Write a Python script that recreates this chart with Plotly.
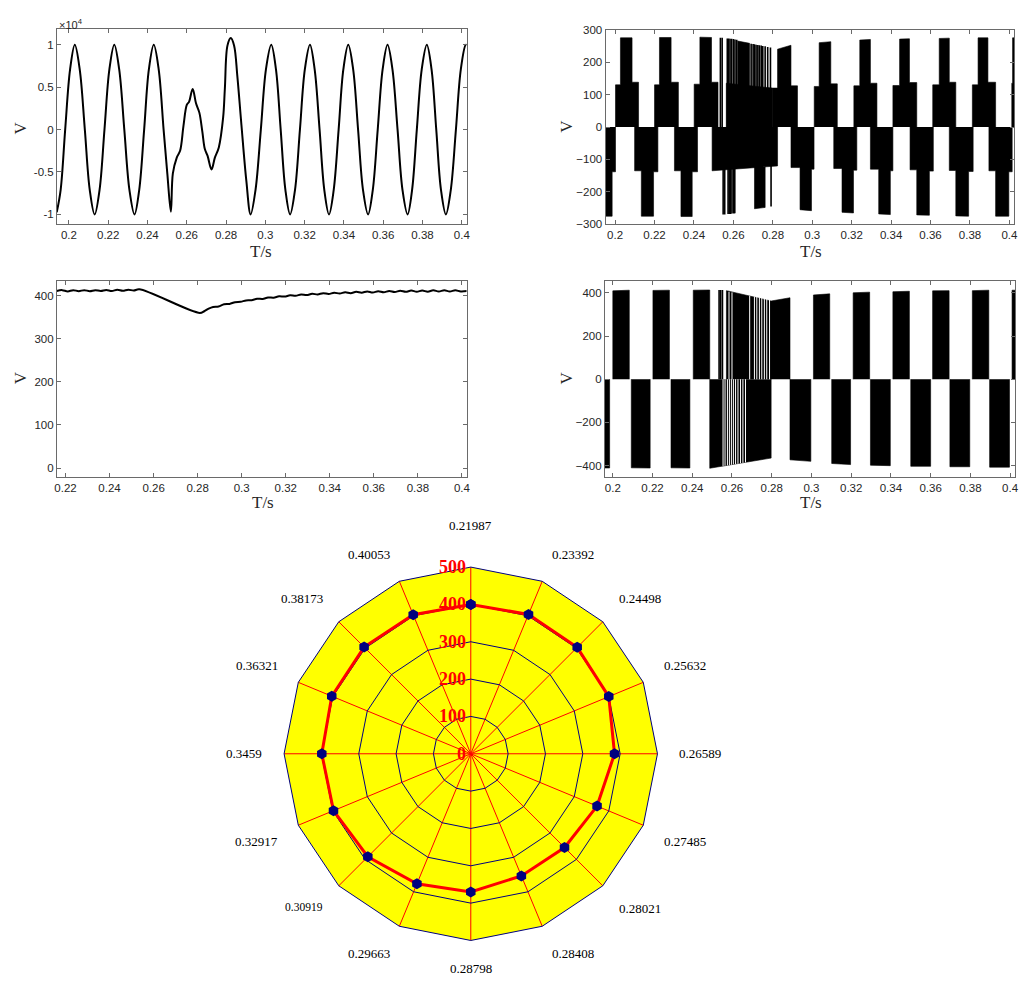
import math
import plotly.graph_objects as go

W, H = 1026, 985

# ---------------- grid phase voltage (V), key points of the waveform ----------------
ua_t = [0.1938, 0.1958, 0.1981, 0.2006, 0.2030, 0.2055, 0.2081, 0.2106, 0.2131, 0.2156,
        0.2181, 0.2206, 0.2231, 0.2256, 0.2282, 0.2308, 0.2334, 0.2358, 0.2383, 0.2407,
        0.2432, 0.2457, 0.2482, 0.2501, 0.2519, 0.2529, 0.2549, 0.2566, 0.2583, 0.2600,
        0.2612, 0.2630, 0.2647, 0.2664, 0.2679, 0.2692, 0.2706, 0.2726, 0.2743, 0.2763,
        0.2785, 0.2794, 0.2807, 0.2824, 0.2841, 0.2857, 0.2878, 0.2903, 0.2925, 0.2950,
        0.2977, 0.3003, 0.3030, 0.3054, 0.3078, 0.3102, 0.3126, 0.3151, 0.3176, 0.3201,
        0.3227, 0.3251, 0.3276, 0.3300, 0.3324, 0.3348, 0.3373, 0.3397, 0.3422, 0.3447,
        0.3472, 0.3497, 0.3523, 0.3547, 0.3572, 0.3597, 0.3622, 0.3647, 0.3673, 0.3698,
        0.3724, 0.3747, 0.3771, 0.3796, 0.3822, 0.3846, 0.3870, 0.3894, 0.3919, 0.3944,
        0.3970, 0.3995, 0.4020, 0.4026]
ua_v = [-9750, -7100, 0, 7100, 10000, 7100, 0, -7100, -10000, -7100,
        0, 7100, 10000, 7100, 0, -7100, -10000, -7100, 0, 7100,
        10000, 7100, 0, -5200, -9700, -5200, -3300, -2500, 400, 2900,
        3300, 4800, 3100, 2000, -200, -2300, -3100, -4700, -3300, -2100,
        1400, 4900, 9900, 10800, 9900, 6400, 600, -6000, -10000, -7100,
        0, 7100, 10000, 7100, 0, -7100, -10000, -7100, 0, 7100,
        10000, 7100, 0, -7100, -10000, -7100, 0, 7100, 10000, 7100,
        0, -7100, -10000, -7100, 0, 7100, 10000, 7100, 0, -7100,
        -10000, -7100, 0, 7100, 10000, 7100, 0, -7100, -10000, -7100,
        0, 7100, 10000, 9980]

# ---------------- DC-link voltage (V) ----------------
udc_t = [0.2160, 0.2185, 0.2210, 0.2235, 0.2260, 0.2285, 0.2310, 0.2335, 0.2360, 0.2385,
         0.2410, 0.2435, 0.2460, 0.2485, 0.2510, 0.2535, 0.2810, 0.2830, 0.2850, 0.2870,
         0.2895, 0.2920, 0.2945, 0.2970, 0.2995, 0.3020, 0.3045, 0.3070, 0.3095, 0.3120,
         0.3145, 0.3170, 0.3195, 0.3220, 0.3245, 0.3270, 0.3295, 0.3320, 0.3345, 0.3370,
         0.3395, 0.3420, 0.3445, 0.3470, 0.3495, 0.3520, 0.3545, 0.3570, 0.3595, 0.3620,
         0.3645, 0.3670, 0.3695, 0.3720, 0.3745, 0.3770, 0.3795, 0.3820, 0.3845, 0.3870,
         0.3895, 0.3920, 0.3945, 0.3970, 0.3995, 0.4025]
udc_v = [411, 413, 410, 413, 410.5, 413, 410.5, 413, 411, 413.5,
         411, 414, 411.5, 414, 412, 415, 360, 364, 370, 374,
         375, 380, 381, 385, 386, 389, 389.5, 393, 392.5, 396,
         395.5, 398.5, 398, 401, 400, 403, 401.5, 404.5, 403, 406,
         404, 407, 405, 408, 406, 409, 407, 410, 407.5, 410.5,
         408, 411, 408.5, 411.5, 409, 412, 409.5, 412, 409.5, 412.5,
         410, 412.5, 410, 412.5, 410, 411]

# ---------------- inverter phase voltage (V): staircase envelopes ----------------
# rise to level 1, rise to level 2, fall to level 1, fall to 0,
# level-1 height (start), level-2 height (start), level-2 height (end), level-1 height (end)
up_t0 = [0.2002, 0.2200, 0.2401, 0.2800, 0.3010, 0.3211, 0.3409, 0.3611, 0.3812, 0.4012]
up_t1 = [0.2027, 0.2225, 0.2430, 0.2824, 0.3035, 0.3241, 0.3443, 0.3644, 0.3841, 0.4016]
up_t2 = [0.2086, 0.2284, 0.2489, 0.2892, 0.3094, 0.3295, 0.3493, 0.3695, 0.3891, 0.4040]
up_t3 = [0.2119, 0.2321, 0.2522, 0.2925, 0.3127, 0.3328, 0.3530, 0.3728, 0.3930, 0.4045]
up_h1a = [130, 130, 132, 120, 125, 127, 128, 130, 130, 135]
up_h2a = [275, 276, 277, 240, 260, 268, 271, 273, 275, 275]
up_h2b = [275, 276, 276, 252, 263, 270, 272, 274, 275, 275]
up_h1b = [138, 138, 138, 127, 133, 135, 137, 138, 138, 138]

un_t0 = [0.1900, 0.2099, 0.2301, 0.2892, 0.3109, 0.3295, 0.3496, 0.3695, 0.3896]
un_t1 = [0.1900, 0.2133, 0.2334, 0.2938, 0.3151, 0.3337, 0.3530, 0.3728, 0.3930]
un_t2 = [0.1985, 0.2195, 0.2391, 0.2996, 0.3209, 0.3396, 0.3594, 0.3793, 0.3997]
un_t3 = [0.2002, 0.2217, 0.2418, 0.3009, 0.3226, 0.3409, 0.3614, 0.3816, 0.4014]
un_h1a = [-135, -135, -135, -125, -128, -130, -132, -134, -135]
un_h2a = [-275, -275, -276, -255, -263, -268, -271, -274, -275]
un_h2b = [-275, -275, -276, -258, -265, -270, -272, -275, -275]
un_h1b = [-138, -138, -138, -130, -133, -135, -136, -137, -138]

# fault interval: sloped plateaus (start, end, height at start, height at end)
ut_pl_t0 = [0.2564, 0.2622, 0.2492, 0.2707]
ut_pl_t1 = [0.2800, 0.2682, 0.2824, 0.2761]
ut_pl_h0 = [135, 265, -135, -252]
ut_pl_h1 = [120, 258, -120, -248]

# fault interval: isolated switching pulses
ut_sp_t = [0.2534, 0.2543, 0.2569, 0.2576, 0.2583, 0.2591, 0.2600, 0.2608, 0.2617,
           0.2690, 0.2700, 0.2707, 0.2715, 0.2724, 0.2732, 0.2741, 0.2749, 0.2761,
           0.2774, 0.2788,
           0.2548, 0.2556, 0.2573, 0.2579, 0.2586, 0.2593, 0.2602, 0.2607, 0.2791]
ut_sp_h = [275, 275, 273, 273, 272, 272, 271, 270, 269,
           257, 256, 255, 254, 253, 252, 251, 250, 249,
           247, 245,
           -270, -270, -268, -268, -268, -267, -267, -266, -245]

# ---------------- inverter line voltage (V): pulse blocks ----------------
ul_p_t0 = [0.2000, 0.2202, 0.2405, 0.2572, 0.2797, 0.3010, 0.3210, 0.3410, 0.3610, 0.3810, 0.4010]
ul_p_t1 = [0.2083, 0.2285, 0.2488, 0.2797, 0.2892, 0.3092, 0.3293, 0.3493, 0.3693, 0.3893, 0.4040]
ul_p_h0 = [409, 411, 412, 410, 362, 390, 400, 405, 409, 410, 412]
ul_p_h1 = [412, 412, 413, 362, 377, 395, 403, 407, 410, 412, 412]

ul_n_t0 = [0.1900, 0.2093, 0.2293, 0.2488, 0.2892, 0.3102, 0.3297, 0.3500, 0.3697, 0.3897]
ul_n_t1 = [0.1984, 0.2188, 0.2388, 0.2797, 0.2997, 0.3197, 0.3397, 0.3600, 0.3797, 0.3997]
ul_n_h0 = [-410, -410, -410, -412, -373, -390, -398, -403, -405, -407]
ul_n_h1 = [-411, -411, -411, -365, -380, -395, -400, -403, -405, -407]

ul_sp_t = [0.2535, 0.2543, 0.2552]
ul_sp_h = [413, 413, 413]

# open (non-conducting) instants inside the fault-time pulse blocks
ul_gap_p_t = [0.2585, 0.2600, 0.2689, 0.2713, 0.2725, 0.2738, 0.2750, 0.2763, 0.2775, 0.2789]
ul_gap_p_h = [404, 402, 386, 383, 381, 379, 377, 375, 373, 371]
ul_gap_n_t = [0.2555, 0.2565, 0.2577, 0.2587, 0.2597, 0.2607, 0.2618, 0.2630, 0.2643, 0.2655, 0.2668]
ul_gap_n_h = [-402, -400, -399, -397, -396, -394, -393, -391, -389, -387, -385]

# ---------------- radar chart: DC voltage sampled at instants ----------------
radar_t = ["0.21987", "0.23392", "0.24498", "0.25632", "0.26589", "0.27485", "0.28021",
           "0.28408", "0.28798", "0.29663", "0.30919", "0.32917", "0.3459", "0.36321",
           "0.38173", "0.40053"]
radar_v = [400, 404, 403, 400, 385, 366, 355, 354, 370, 377, 390, 398, 399, 403, 404, 403]
radar_ticks = [0, 100, 200, 300, 400, 500]
radar_max = 500

# ---------------- axis tick labels ----------------
x_ticks = [0.2, 0.22, 0.24, 0.26, 0.28, 0.3, 0.32, 0.34, 0.36, 0.38, 0.4]
x_ticktext = ["0.2", "0.22", "0.24", "0.26", "0.28", "0.3", "0.32", "0.34", "0.36", "0.38", "0.4"]
x3_ticks = x_ticks[1:]
x3_ticktext = x_ticktext[1:]
y1_ticks = [-10000, -5000, 0, 5000, 10000]
y1_ticktext = ["-1", "-0.5", "0", "0.5", "1"]
y2_ticks = [-300, -200, -100, 0, 100, 200, 300]
y3_ticks = [0, 100, 200, 300, 400]
y4_ticks = [-400, -200, 0, 200, 400]


def stair_polys(t0, t1, t2, t3, h1a, h2a, h2b, h1b):
    xs, ys = [], []
    for a, b, c, d, p, q, r, s in zip(t0, t1, t2, t3, h1a, h2a, h2b, h1b):
        xs += [a, a, b, b, c, c, d, d, None]
        ys += [0, p, p, q, r, s, s, 0, None]
    return xs, ys


def block_polys(t0, t1, h0, h1):
    xs, ys = [], []
    for a, b, p, q in zip(t0, t1, h0, h1):
        xs += [a, a, b, b, None]
        ys += [0, p, q, 0, None]
    return xs, ys


def pulses(ts, hs):
    xs, ys = [], []
    for t, h in zip(ts, hs):
        xs += [t, t, None]
        ys += [0, h, None]
    return xs, ys


fig = go.Figure()

# top-left: grid voltage
fig.add_trace(go.Scatter(x=ua_t, y=ua_v, mode="lines", xaxis="x", yaxis="y",
                         line=dict(color="black", width=2, shape="spline", smoothing=1.0)))

# top-right: phase voltage staircase
for arrs in [(up_t0, up_t1, up_t2, up_t3, up_h1a, up_h2a, up_h2b, up_h1b),
             (un_t0, un_t1, un_t2, un_t3, un_h1a, un_h2a, un_h2b, un_h1b)]:
    xs, ys = stair_polys(*arrs)
    fig.add_trace(go.Scatter(x=xs, y=ys, mode="lines", fill="toself", fillcolor="black",
                             line=dict(color="black", width=0.6), xaxis="x2", yaxis="y2"))
xs, ys = block_polys(ut_pl_t0, ut_pl_t1, ut_pl_h0, ut_pl_h1)
fig.add_trace(go.Scatter(x=xs, y=ys, mode="lines", fill="toself", fillcolor="black",
                         line=dict(color="black", width=0.6), xaxis="x2", yaxis="y2"))
xs, ys = pulses(ut_sp_t, ut_sp_h)
fig.add_trace(go.Scatter(x=xs, y=ys, mode="lines", line=dict(color="black", width=1.6),
                         xaxis="x2", yaxis="y2"))

# bottom-left: DC-link voltage
fig.add_trace(go.Scatter(x=udc_t, y=udc_v, mode="lines", xaxis="x3", yaxis="y3",
                         line=dict(color="black", width=2, shape="spline", smoothing=1.0)))

# bottom-right: line voltage pulses
for arrs in [(ul_p_t0, ul_p_t1, ul_p_h0, ul_p_h1), (ul_n_t0, ul_n_t1, ul_n_h0, ul_n_h1)]:
    xs, ys = block_polys(*arrs)
    fig.add_trace(go.Scatter(x=xs, y=ys, mode="lines", fill="toself", fillcolor="black",
                             line=dict(color="black", width=0.6), xaxis="x4", yaxis="y4"))
xs, ys = pulses(ul_sp_t, ul_sp_h)
fig.add_trace(go.Scatter(x=xs, y=ys, mode="lines", line=dict(color="black", width=1.6),
                         xaxis="x4", yaxis="y4"))
for ts, hs in [(ul_gap_p_t, ul_gap_p_h), (ul_gap_n_t, ul_gap_n_h)]:
    xs, ys = pulses(ts, hs)
    fig.add_trace(go.Scatter(x=xs, y=ys, mode="lines", line=dict(color="white", width=1.0),
                             xaxis="x4", yaxis="y4"))

# radar chart
fig.add_trace(go.Scatterpolar(
    r=radar_v + radar_v[:1], theta=radar_t + radar_t[:1], mode="lines+markers",
    line=dict(color="#ff0000", width=3),
    marker=dict(symbol="hexagon", size=11, color="#00007f", line=dict(width=0)),
    subplot="polar"))


# ---------------- layout ----------------
def px_x(p):
    return p / W


def px_y(p):
    return 1 - p / H


# radar geometry (pixels)
RC_X, RC_Y, R_PX = 471, 757, 189

axis_common = dict(showline=True, mirror="ticks", linecolor="#6a6a6a", linewidth=1,
                   ticks="inside", ticklen=4, tickcolor="#6a6a6a", showgrid=False,
                   zeroline=False,
                   tickfont=dict(family="Liberation Sans", size=11.5, color="#262626"))

fig.update_layout(
    width=W, height=H, margin=dict(l=0, r=0, t=0, b=0),
    paper_bgcolor="white", plot_bgcolor="white", showlegend=False,
    xaxis=dict(domain=[px_x(54.3), px_x(466.7)], range=[0.1939, 0.4024], anchor="y",
               tickvals=x_ticks, ticktext=x_ticktext, **axis_common),
    yaxis=dict(domain=[px_y(221), px_y(23.3)], range=[-11170, 11860], anchor="x",
               tickvals=y1_ticks, ticktext=y1_ticktext, **axis_common),
    xaxis2=dict(domain=[px_x(606.7), px_x(1018.3)], range=[0.19516, 0.4025], anchor="y2",
                tickvals=x_ticks, ticktext=x_ticktext, **axis_common),
    yaxis2=dict(domain=[px_y(221), px_y(24)], range=[-300, 300], anchor="x2",
                tickvals=y2_ticks, **axis_common),
    xaxis3=dict(domain=[px_x(54.3), px_x(466.7)], range=[0.2161, 0.4021], anchor="y3",
                tickvals=x3_ticks, ticktext=x3_ticktext, **axis_common),
    yaxis3=dict(domain=[px_y(476.7), px_y(278.3)], range=[-20.6, 434.4], anchor="x3",
                tickvals=y3_ticks, **axis_common),
    xaxis4=dict(domain=[px_x(606), px_x(1019)], range=[0.196, 0.4025], anchor="y4",
                tickvals=x_ticks, ticktext=x_ticktext, **axis_common),
    yaxis4=dict(domain=[px_y(476.7), px_y(278.3)], range=[-452, 455], anchor="x4",
                tickvals=y4_ticks, **axis_common),
    polar=dict(
        domain=dict(x=[px_x(RC_X - R_PX), px_x(RC_X + R_PX)],
                    y=[px_y(RC_Y + R_PX), px_y(RC_Y - R_PX)]),
        bgcolor="#ffff00", gridshape="linear",
        angularaxis=dict(direction="clockwise", rotation=90, showticklabels=False, ticks="",
                         showline=True, linecolor="#00007f", linewidth=1,
                         gridcolor="#ff0000", gridwidth=1, categoryorder="array",
                         categoryarray=radar_t),
        radialaxis=dict(range=[0, radar_max], tickvals=[100, 200, 300, 400],
                        showticklabels=False, ticks="", showline=False,
                        gridcolor="#00007f", gridwidth=1),
    ),
)

# radial tick labels, along the first spoke
for v in radar_ticks:
    fig.add_annotation(text=f"<b>{v}</b>", x=px_x(RC_X - 3), y=px_y(RC_Y - v / radar_max * R_PX),
                       xref="paper", yref="paper", showarrow=False,
                       xanchor="right", yanchor="middle",
                       font=dict(family="Liberation Serif", size=18, color="#ff0000"))

# angular labels, placed just outside the outer ring
R_LAB = 208
n = len(radar_t)
for i, lab in enumerate(radar_t):
    phi = 2 * math.pi * i / n
    s, c = math.sin(phi), math.cos(phi)
    xa = "left" if s > 0.1 else ("right" if s < -0.1 else "center")
    ya = "bottom" if c > 0.1 else ("top" if c < -0.1 else "middle")
    extra = 13 if c > 0.99 else 0
    fig.add_annotation(text=lab, x=px_x(RC_X + R_LAB * s), y=px_y(RC_Y - R_LAB * c - extra),
                       xref="paper", yref="paper", showarrow=False, xanchor=xa, yanchor=ya,
                       font=dict(family="Liberation Serif",
                                 size=11.5 if lab == "0.30919" else 13, color="black"))

# axis titles
title_font = dict(family="Liberation Serif", size=17, color="#262626")
for xc, yc in [(260, 249), (814, 249), (262, 503), (814, 503)]:
    fig.add_annotation(text="T/s", x=px_x(xc), y=px_y(yc), xref="paper", yref="paper",
                       showarrow=False, font=title_font, xanchor="center", yanchor="middle")
for xc, yc in [(18, 123), (567, 122), (18, 376), (567, 377)]:
    fig.add_annotation(text="V", x=px_x(xc), y=px_y(yc), xref="paper", yref="paper",
                       showarrow=False, font=title_font, textangle=-90,
                       xanchor="center", yanchor="middle")
# exponent of the top-left y axis
fig.add_annotation(text="×10<sup>4</sup>", x=px_x(54), y=px_y(18), xref="paper", yref="paper",
                   showarrow=False, xanchor="left", yanchor="middle",
                   font=dict(family="Liberation Sans", size=11, color="#262626"))

fig.write_html("out.html")
